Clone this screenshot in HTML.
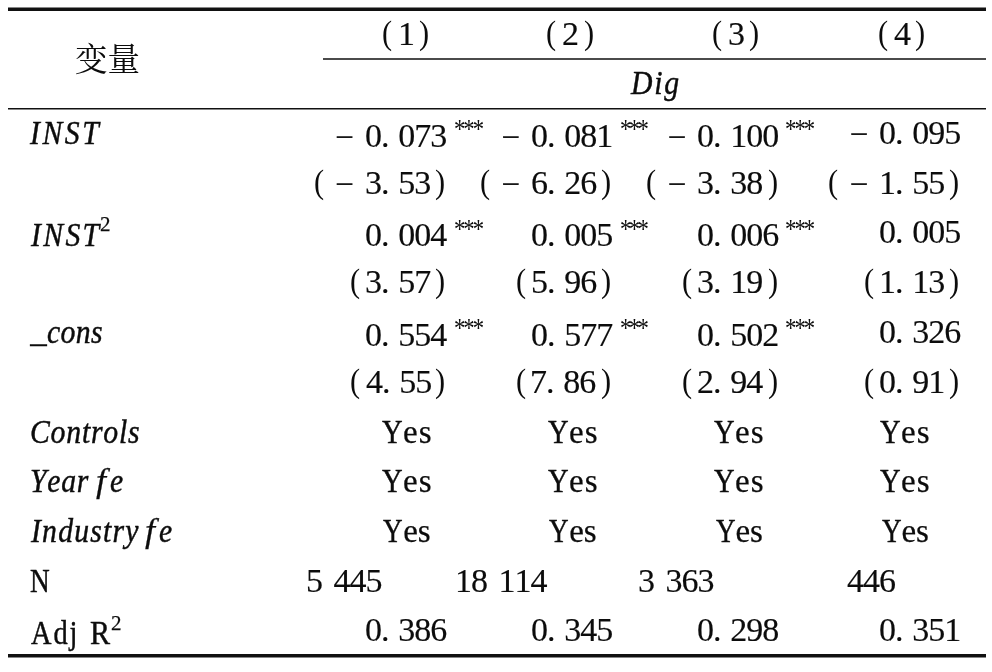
<!DOCTYPE html>
<html lang="zh">
<head>
<meta charset="utf-8">
<title>Regression table</title>
<style>
html,body{margin:0;padding:0;background:#fff;}
body{width:992px;height:672px;overflow:hidden;position:relative;}
#tbl{position:absolute;left:0;top:0;width:992px;height:672px;overflow:hidden;color:#0c0c0c;
 font-family:"Liberation Serif",serif;font-size:33px;font-kerning:none;font-variant-ligatures:none;
 will-change:transform;}
.t{position:absolute;white-space:pre;line-height:40px;height:40px;transform-origin:0 50%;
 -webkit-text-stroke:0.25px #0c0c0c;}
.i{font-style:italic;}
svg{position:absolute;left:0;top:0;}
</style>
</head>
<body>
<div id="tbl">
<svg width="992" height="672" viewBox="0 0 992 672">
<g fill="#111">
<rect x="8" y="7.5" width="978" height="3.5"/>
<rect x="323" y="58.25" width="663" height="1.5"/>
<rect x="8" y="108" width="978" height="1.5"/>
<rect x="8" y="654" width="978" height="3.5"/>
</g>
<text x="75" y="71.1" font-size="32.5" fill="#0c0c0c" font-family="'Liberation Serif','Noto Serif CJK SC',serif">变量</text>
</svg>
<!-- header -->
<div class="r">
<span class="c"><span class="t" style="left:381.67px;top:13px;transform:scaleX(0.920);-webkit-text-stroke-width:0px;">(</span><span class="t" style="left:398.26px;top:14px;transform:scaleX(1.030);-webkit-text-stroke-width:0.15px;">1</span><span class="t" style="left:418.52px;top:13px;transform:scaleX(0.920);-webkit-text-stroke-width:0px;">)</span></span>
<span class="c"><span class="t" style="left:546.17px;top:13px;transform:scaleX(0.920);-webkit-text-stroke-width:0px;">(</span><span class="t" style="left:562.26px;top:14px;transform:scaleX(1.030);-webkit-text-stroke-width:0.15px;">2</span><span class="t" style="left:584.02px;top:13px;transform:scaleX(0.920);-webkit-text-stroke-width:0px;">)</span></span>
<span class="c"><span class="t" style="left:712.47px;top:13px;transform:scaleX(0.920);-webkit-text-stroke-width:0px;">(</span><span class="t" style="left:728.47px;top:14px;transform:scaleX(1.030);-webkit-text-stroke-width:0.15px;">3</span><span class="t" style="left:749.12px;top:13px;transform:scaleX(0.920);-webkit-text-stroke-width:0px;">)</span></span>
<span class="c"><span class="t" style="left:878.27px;top:13px;transform:scaleX(0.920);-webkit-text-stroke-width:0px;">(</span><span class="t" style="left:894.44px;top:14px;transform:scaleX(1.030);-webkit-text-stroke-width:0.15px;">4</span><span class="t" style="left:914.62px;top:13px;transform:scaleX(0.920);-webkit-text-stroke-width:0px;">)</span></span>
<span class="c"><span class="t i" style="left:630.83px;top:63px;letter-spacing:1.94px;transform:scaleX(0.900);-webkit-text-stroke-width:0.45px;">Dig</span></span>
</div>
<!-- INST -->
<div class="r">
<span class="c"><span class="t i" style="left:30.12px;top:113px;letter-spacing:2.84px;transform:scaleX(0.900);-webkit-text-stroke-width:0.45px;">INST</span></span>
<span class="c"><span class="t" style="left:335.36px;top:117px;">−</span><span class="t" style="left:364.96px;top:116px;letter-spacing:-0.97px;word-spacing:2.08px;transform:scaleX(1.030);-webkit-text-stroke-width:0.15px;">0. 073</span><span class="t" style="left:454.29px;top:109px;font-size:27px;letter-spacing:-2.34px;transform:scaleX(0.840);-webkit-text-stroke-width:0px;">***</span></span>
<span class="c"><span class="t" style="left:501.61px;top:117px;">−</span><span class="t" style="left:531.21px;top:116px;letter-spacing:-0.97px;word-spacing:2.08px;transform:scaleX(1.030);-webkit-text-stroke-width:0.15px;">0. 081</span><span class="t" style="left:620.39px;top:109px;font-size:27px;letter-spacing:-3.05px;transform:scaleX(0.840);-webkit-text-stroke-width:0px;">***</span></span>
<span class="c"><span class="t" style="left:667.86px;top:117px;">−</span><span class="t" style="left:697.46px;top:116px;letter-spacing:-0.97px;word-spacing:2.08px;transform:scaleX(1.030);-webkit-text-stroke-width:0.15px;">0. 100</span><span class="t" style="left:784.99px;top:109px;font-size:27px;letter-spacing:-2.28px;transform:scaleX(0.840);-webkit-text-stroke-width:0px;">***</span></span>
<span class="c"><span class="t" style="left:849.86px;top:114px;">−</span><span class="t" style="left:878.96px;top:113px;letter-spacing:-0.97px;word-spacing:2.08px;transform:scaleX(1.030);-webkit-text-stroke-width:0.15px;">0. 095</span></span>
</div>
<!-- INST t -->
<div class="r">
<span class="c"><span class="t" style="left:313.67px;top:162px;transform:scaleX(0.920);-webkit-text-stroke-width:0px;">(</span><span class="t" style="left:335.36px;top:164px;">−</span><span class="t" style="left:364.62px;top:163px;letter-spacing:-0.97px;word-spacing:2.08px;transform:scaleX(1.030);-webkit-text-stroke-width:0.15px;">3. 53</span><span class="t" style="left:435.02px;top:162px;transform:scaleX(0.920);-webkit-text-stroke-width:0px;">)</span></span>
<span class="c"><span class="t" style="left:479.92px;top:162px;transform:scaleX(0.920);-webkit-text-stroke-width:0px;">(</span><span class="t" style="left:501.61px;top:164px;">−</span><span class="t" style="left:531.04px;top:163px;letter-spacing:-0.97px;word-spacing:2.08px;transform:scaleX(1.030);-webkit-text-stroke-width:0.15px;">6. 26</span><span class="t" style="left:601.27px;top:162px;transform:scaleX(0.920);-webkit-text-stroke-width:0px;">)</span></span>
<span class="c"><span class="t" style="left:646.17px;top:162px;transform:scaleX(0.920);-webkit-text-stroke-width:0px;">(</span><span class="t" style="left:667.86px;top:164px;">−</span><span class="t" style="left:697.12px;top:163px;letter-spacing:-0.97px;word-spacing:2.08px;transform:scaleX(1.030);-webkit-text-stroke-width:0.15px;">3. 38</span><span class="t" style="left:767.52px;top:162px;transform:scaleX(0.920);-webkit-text-stroke-width:0px;">)</span></span>
<span class="c"><span class="t" style="left:828.17px;top:162px;transform:scaleX(0.920);-webkit-text-stroke-width:0px;">(</span><span class="t" style="left:849.86px;top:164px;">−</span><span class="t" style="left:879.01px;top:163px;letter-spacing:-0.97px;word-spacing:2.08px;transform:scaleX(1.030);-webkit-text-stroke-width:0.15px;">1. 55</span><span class="t" style="left:948.72px;top:162px;transform:scaleX(0.920);-webkit-text-stroke-width:0px;">)</span></span>
</div>
<!-- INST2 -->
<div class="r">
<span class="c"><span class="t i" style="left:30.72px;top:215px;letter-spacing:2.62px;transform:scaleX(0.900);-webkit-text-stroke-width:0.45px;">INST</span><span class="t" style="left:100.08px;top:204px;font-size:21px;">2</span></span>
<span class="c"><span class="t" style="left:364.96px;top:215px;letter-spacing:-0.97px;word-spacing:2.08px;transform:scaleX(1.030);-webkit-text-stroke-width:0.15px;">0. 004</span><span class="t" style="left:454.29px;top:209px;font-size:27px;letter-spacing:-2.34px;transform:scaleX(0.840);-webkit-text-stroke-width:0px;">***</span></span>
<span class="c"><span class="t" style="left:531.21px;top:215px;letter-spacing:-0.97px;word-spacing:2.08px;transform:scaleX(1.030);-webkit-text-stroke-width:0.15px;">0. 005</span><span class="t" style="left:620.39px;top:209px;font-size:27px;letter-spacing:-3.05px;transform:scaleX(0.840);-webkit-text-stroke-width:0px;">***</span></span>
<span class="c"><span class="t" style="left:697.46px;top:215px;letter-spacing:-0.97px;word-spacing:2.08px;transform:scaleX(1.030);-webkit-text-stroke-width:0.15px;">0. 006</span><span class="t" style="left:784.99px;top:209px;font-size:27px;letter-spacing:-2.28px;transform:scaleX(0.840);-webkit-text-stroke-width:0px;">***</span></span>
<span class="c"><span class="t" style="left:878.96px;top:212px;letter-spacing:-0.97px;word-spacing:2.08px;transform:scaleX(1.030);-webkit-text-stroke-width:0.15px;">0. 005</span></span>
</div>
<!-- INST2 t -->
<div class="r">
<span class="c"><span class="t" style="left:349.92px;top:261px;transform:scaleX(0.920);-webkit-text-stroke-width:0px;">(</span><span class="t" style="left:364.62px;top:262px;letter-spacing:-0.97px;word-spacing:2.08px;transform:scaleX(1.030);-webkit-text-stroke-width:0.15px;">3. 57</span><span class="t" style="left:435.02px;top:261px;transform:scaleX(0.920);-webkit-text-stroke-width:0px;">)</span></span>
<span class="c"><span class="t" style="left:516.17px;top:261px;transform:scaleX(0.920);-webkit-text-stroke-width:0px;">(</span><span class="t" style="left:530.52px;top:262px;letter-spacing:-0.97px;word-spacing:2.08px;transform:scaleX(1.030);-webkit-text-stroke-width:0.15px;">5. 96</span><span class="t" style="left:601.27px;top:261px;transform:scaleX(0.920);-webkit-text-stroke-width:0px;">)</span></span>
<span class="c"><span class="t" style="left:682.42px;top:261px;transform:scaleX(0.920);-webkit-text-stroke-width:0px;">(</span><span class="t" style="left:697.12px;top:262px;letter-spacing:-0.97px;word-spacing:2.08px;transform:scaleX(1.030);-webkit-text-stroke-width:0.15px;">3. 19</span><span class="t" style="left:767.52px;top:261px;transform:scaleX(0.920);-webkit-text-stroke-width:0px;">)</span></span>
<span class="c"><span class="t" style="left:863.92px;top:261px;transform:scaleX(0.920);-webkit-text-stroke-width:0px;">(</span><span class="t" style="left:879.01px;top:262px;letter-spacing:-0.97px;word-spacing:2.08px;transform:scaleX(1.030);-webkit-text-stroke-width:0.15px;">1. 13</span><span class="t" style="left:948.72px;top:261px;transform:scaleX(0.920);-webkit-text-stroke-width:0px;">)</span></span>
</div>
<!-- _cons -->
<div class="r">
<span class="c"><span class="t i" style="left:30.26px;top:311px;">_</span><span class="t i" style="left:46.59px;top:312px;letter-spacing:0.42px;transform:scaleX(0.900);-webkit-text-stroke-width:0.45px;">cons</span></span>
<span class="c"><span class="t" style="left:364.96px;top:315px;letter-spacing:-0.97px;word-spacing:2.08px;transform:scaleX(1.030);-webkit-text-stroke-width:0.15px;">0. 554</span><span class="t" style="left:454.29px;top:308px;font-size:27px;letter-spacing:-2.34px;transform:scaleX(0.840);-webkit-text-stroke-width:0px;">***</span></span>
<span class="c"><span class="t" style="left:531.21px;top:315px;letter-spacing:-0.97px;word-spacing:2.08px;transform:scaleX(1.030);-webkit-text-stroke-width:0.15px;">0. 577</span><span class="t" style="left:620.39px;top:308px;font-size:27px;letter-spacing:-3.05px;transform:scaleX(0.840);-webkit-text-stroke-width:0px;">***</span></span>
<span class="c"><span class="t" style="left:697.46px;top:315px;letter-spacing:-0.97px;word-spacing:2.08px;transform:scaleX(1.030);-webkit-text-stroke-width:0.15px;">0. 502</span><span class="t" style="left:784.99px;top:308px;font-size:27px;letter-spacing:-2.28px;transform:scaleX(0.840);-webkit-text-stroke-width:0px;">***</span></span>
<span class="c"><span class="t" style="left:878.96px;top:312px;letter-spacing:-0.97px;word-spacing:2.08px;transform:scaleX(1.030);-webkit-text-stroke-width:0.15px;">0. 326</span></span>
</div>
<!-- _cons t -->
<div class="r">
<span class="c"><span class="t" style="left:349.92px;top:361px;transform:scaleX(0.920);-webkit-text-stroke-width:0px;">(</span><span class="t" style="left:365.59px;top:362px;letter-spacing:-0.97px;word-spacing:2.08px;transform:scaleX(1.030);-webkit-text-stroke-width:0.15px;">4. 55</span><span class="t" style="left:435.02px;top:361px;transform:scaleX(0.920);-webkit-text-stroke-width:0px;">)</span></span>
<span class="c"><span class="t" style="left:516.17px;top:361px;transform:scaleX(0.920);-webkit-text-stroke-width:0px;">(</span><span class="t" style="left:530.26px;top:362px;letter-spacing:-0.97px;word-spacing:2.08px;transform:scaleX(1.030);-webkit-text-stroke-width:0.15px;">7. 86</span><span class="t" style="left:601.27px;top:361px;transform:scaleX(0.920);-webkit-text-stroke-width:0px;">)</span></span>
<span class="c"><span class="t" style="left:682.42px;top:361px;transform:scaleX(0.920);-webkit-text-stroke-width:0px;">(</span><span class="t" style="left:697.26px;top:362px;letter-spacing:-0.97px;word-spacing:2.08px;transform:scaleX(1.030);-webkit-text-stroke-width:0.15px;">2. 94</span><span class="t" style="left:767.52px;top:361px;transform:scaleX(0.920);-webkit-text-stroke-width:0px;">)</span></span>
<span class="c"><span class="t" style="left:863.92px;top:361px;transform:scaleX(0.920);-webkit-text-stroke-width:0px;">(</span><span class="t" style="left:878.96px;top:362px;letter-spacing:-0.97px;word-spacing:2.08px;transform:scaleX(1.030);-webkit-text-stroke-width:0.15px;">0. 91</span><span class="t" style="left:948.72px;top:361px;transform:scaleX(0.920);-webkit-text-stroke-width:0px;">)</span></span>
</div>
<!-- Controls -->
<div class="r">
<span class="c"><span class="t i" style="left:29.60px;top:412px;letter-spacing:0.88px;transform:scaleX(0.900);-webkit-text-stroke-width:0.45px;">Controls</span></span>
<span class="c"><span class="t" style="left:382.08px;top:412px;transform:scaleX(0.863);-webkit-text-stroke-width:0.45px;">Y</span><span class="t" style="left:403.11px;top:412px;letter-spacing:0.99px;">es</span></span>
<span class="c"><span class="t" style="left:547.98px;top:412px;transform:scaleX(0.863);-webkit-text-stroke-width:0.45px;">Y</span><span class="t" style="left:569.01px;top:412px;letter-spacing:0.99px;">es</span></span>
<span class="c"><span class="t" style="left:714.08px;top:412px;transform:scaleX(0.863);-webkit-text-stroke-width:0.45px;">Y</span><span class="t" style="left:735.11px;top:412px;letter-spacing:0.99px;">es</span></span>
<span class="c"><span class="t" style="left:879.98px;top:412px;transform:scaleX(0.863);-webkit-text-stroke-width:0.45px;">Y</span><span class="t" style="left:901.01px;top:412px;letter-spacing:0.99px;">es</span></span>
</div>
<!-- Year fe -->
<div class="r">
<span class="c"><span class="t i" style="left:30.30px;top:461px;letter-spacing:0.83px;transform:scaleX(0.900);-webkit-text-stroke-width:0.45px;">Year</span><span class="t" style="left:90.00px;top:461px;"> </span><span class="t i" style="left:95.85px;top:461px;transform:scaleX(1.090);">f</span><span class="t i" style="left:109.94px;top:461px;transform:scaleX(0.900);-webkit-text-stroke-width:0.45px;">e</span></span>
<span class="c"><span class="t" style="left:382.08px;top:461px;transform:scaleX(0.863);-webkit-text-stroke-width:0.45px;">Y</span><span class="t" style="left:403.11px;top:461px;letter-spacing:0.99px;">es</span></span>
<span class="c"><span class="t" style="left:547.98px;top:461px;transform:scaleX(0.863);-webkit-text-stroke-width:0.45px;">Y</span><span class="t" style="left:569.01px;top:461px;letter-spacing:0.99px;">es</span></span>
<span class="c"><span class="t" style="left:714.08px;top:461px;transform:scaleX(0.863);-webkit-text-stroke-width:0.45px;">Y</span><span class="t" style="left:735.11px;top:461px;letter-spacing:0.99px;">es</span></span>
<span class="c"><span class="t" style="left:879.98px;top:461px;transform:scaleX(0.863);-webkit-text-stroke-width:0.45px;">Y</span><span class="t" style="left:901.01px;top:461px;letter-spacing:0.99px;">es</span></span>
</div>
<!-- Industry fe -->
<div class="r">
<span class="c"><span class="t i" style="left:30.62px;top:511px;letter-spacing:1.33px;transform:scaleX(0.900);-webkit-text-stroke-width:0.45px;">Industry</span><span class="t" style="left:140.00px;top:511px;"> </span><span class="t i" style="left:144.60px;top:511px;transform:scaleX(1.090);">f</span><span class="t i" style="left:158.69px;top:511px;transform:scaleX(0.900);-webkit-text-stroke-width:0.45px;">e</span></span>
<span class="c"><span class="t" style="left:383.40px;top:511px;transform:scaleX(0.820);-webkit-text-stroke-width:0.45px;">Y</span><span class="t" style="left:403.31px;top:511px;letter-spacing:-0.31px;">es</span></span>
<span class="c"><span class="t" style="left:549.40px;top:511px;transform:scaleX(0.820);-webkit-text-stroke-width:0.45px;">Y</span><span class="t" style="left:569.31px;top:511px;letter-spacing:-0.31px;">es</span></span>
<span class="c"><span class="t" style="left:715.70px;top:511px;transform:scaleX(0.820);-webkit-text-stroke-width:0.45px;">Y</span><span class="t" style="left:735.61px;top:511px;letter-spacing:-0.31px;">es</span></span>
<span class="c"><span class="t" style="left:881.70px;top:511px;transform:scaleX(0.820);-webkit-text-stroke-width:0.45px;">Y</span><span class="t" style="left:901.61px;top:511px;letter-spacing:-0.31px;">es</span></span>
</div>
<!-- N -->
<div class="r">
<span class="c"><span class="t" style="left:30.46px;top:561px;transform:scaleX(0.826);-webkit-text-stroke-width:0.45px;">N</span></span>
<span class="c"><span class="t" style="left:305.52px;top:561px;letter-spacing:-0.97px;word-spacing:3.88px;transform:scaleX(1.030);-webkit-text-stroke-width:0.15px;">5 445</span></span>
<span class="c"><span class="t" style="left:454.76px;top:561px;letter-spacing:-0.97px;word-spacing:3.88px;transform:scaleX(1.030);-webkit-text-stroke-width:0.15px;">18 114</span></span>
<span class="c"><span class="t" style="left:637.87px;top:561px;letter-spacing:-0.97px;word-spacing:3.88px;transform:scaleX(1.030);-webkit-text-stroke-width:0.15px;">3 363</span></span>
<span class="c"><span class="t" style="left:847.09px;top:561px;letter-spacing:-0.97px;transform:scaleX(1.030);-webkit-text-stroke-width:0.15px;">446</span></span>
</div>
<!-- Adj R2 -->
<div class="r">
<span class="c"><span class="t" style="left:30.97px;top:613px;letter-spacing:2.27px;transform:scaleX(0.860);-webkit-text-stroke-width:0.45px;">Adj</span><span class="t" style="left:78.00px;top:613px;"> </span><span class="t" style="left:89.73px;top:613px;transform:scaleX(0.912);-webkit-text-stroke-width:0.45px;">R</span><span class="t" style="left:110.98px;top:603px;font-size:21px;">2</span></span>
<span class="c"><span class="t" style="left:364.96px;top:610px;letter-spacing:-0.97px;word-spacing:2.08px;transform:scaleX(1.030);-webkit-text-stroke-width:0.15px;">0. 386</span></span>
<span class="c"><span class="t" style="left:531.21px;top:610px;letter-spacing:-0.97px;word-spacing:2.08px;transform:scaleX(1.030);-webkit-text-stroke-width:0.15px;">0. 345</span></span>
<span class="c"><span class="t" style="left:697.46px;top:610px;letter-spacing:-0.97px;word-spacing:2.08px;transform:scaleX(1.030);-webkit-text-stroke-width:0.15px;">0. 298</span></span>
<span class="c"><span class="t" style="left:878.96px;top:610px;letter-spacing:-0.97px;word-spacing:2.08px;transform:scaleX(1.030);-webkit-text-stroke-width:0.15px;">0. 351</span></span>
</div>
</div>
</body>
</html>
